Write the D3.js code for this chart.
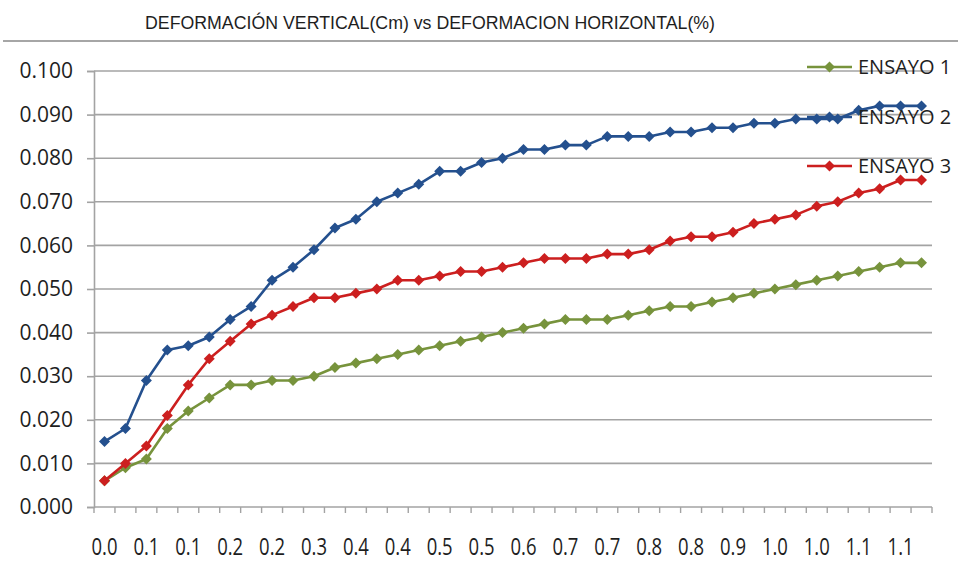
<!DOCTYPE html>
<html>
<head>
<meta charset="utf-8">
<script src="https://cdn.jsdelivr.net/npm/d3@7"></script>
<style>
  html, body { margin: 0; padding: 0; background: #fff; }
  svg { display: block; }
</style>
</head>
<body>
<svg id="chart" width="958" height="569"></svg>
<script>
// Horizontal deformation (%) categories, one per reading
const categories = [
  "0.0","0.0","0.1","0.1","0.1","0.2","0.2","0.2","0.2","0.3",
  "0.3","0.3","0.4","0.4","0.4","0.5","0.5","0.5","0.5","0.6",
  "0.6","0.6","0.7","0.7","0.7","0.8","0.8","0.8","0.8","0.9",
  "0.9","0.9","1.0","1.0","1.0","1.1","1.1","1.1","1.1","1.2"
];

// Vertical deformation (cm) per test
const ensayo1 = [
  0.006,0.009,0.011,0.018,0.022,0.025,0.028,0.028,0.029,0.029,
  0.030,0.032,0.033,0.034,0.035,0.036,0.037,0.038,0.039,0.040,
  0.041,0.042,0.043,0.043,0.043,0.044,0.045,0.046,0.046,0.047,
  0.048,0.049,0.050,0.051,0.052,0.053,0.054,0.055,0.056,0.056
];
const ensayo2 = [
  0.015,0.018,0.029,0.036,0.037,0.039,0.043,0.046,0.052,0.055,
  0.059,0.064,0.066,0.070,0.072,0.074,0.077,0.077,0.079,0.080,
  0.082,0.082,0.083,0.083,0.085,0.085,0.085,0.086,0.086,0.087,
  0.087,0.088,0.088,0.089,0.089,0.089,0.091,0.092,0.092,0.092
];
const ensayo3 = [
  0.006,0.010,0.014,0.021,0.028,0.034,0.038,0.042,0.044,0.046,
  0.048,0.048,0.049,0.050,0.052,0.052,0.053,0.054,0.054,0.055,
  0.056,0.057,0.057,0.057,0.058,0.058,0.059,0.061,0.062,0.062,
  0.063,0.065,0.066,0.067,0.069,0.070,0.072,0.073,0.075,0.075
];

const seriesNames = ["ENSAYO 1", "ENSAYO 2", "ENSAYO 3"];
const yTicks = [0, 0.01, 0.02, 0.03, 0.04, 0.05, 0.06, 0.07, 0.08, 0.09, 0.1];
const titleText = "DEFORMACIÓN VERTICAL(Cm) vs DEFORMACION HORIZONTAL(%)";

const series = [
  { name: seriesNames[0], values: ensayo1, color: "#77933C" },
  { name: seriesNames[1], values: ensayo2, color: "#24508E" },
  { name: seriesNames[2], values: ensayo3, color: "#CC1F1F" }
];

const svg = d3.select("#chart");
const plot = { left: 94, right: 932, top: 71, bottom: 507 };

const x = d3.scaleBand()
  .domain(d3.range(categories.length))
  .range([plot.left, plot.right])
  .padding(0);
const y = d3.scaleLinear().domain([0, 0.1]).range([plot.bottom, plot.top]);

const gridColor = "#A3A3A3";
const textColor = "#1E1E1E";

// Title and separator rule beneath it
svg.append("text")
  .attr("x", 145).attr("y", 29)
  .attr("font-family", "'Liberation Sans Narrow', 'Arial Narrow', 'Liberation Sans', sans-serif")
  .attr("font-size", 18)
  .attr("fill", textColor)
  .attr("textLength", 570)
  .attr("lengthAdjust", "spacingAndGlyphs")
  .text(titleText);

svg.append("line")
  .attr("x1", 3).attr("x2", 958)
  .attr("y1", 41).attr("y2", 41)
  .attr("stroke", "#A6A6A6").attr("stroke-width", 2);

// Horizontal gridlines
svg.append("g")
  .selectAll("line")
  .data(yTicks.slice(1))
  .join("line")
  .attr("x1", plot.left).attr("x2", plot.right)
  .attr("y1", d => y(d)).attr("y2", d => y(d))
  .attr("stroke", gridColor).attr("stroke-width", 1.6);

// Y axis
const yAxis = d3.axisLeft(y)
  .tickValues(yTicks)
  .tickFormat(d3.format(".3f"))
  .tickSize(7)
  .tickPadding(14);
const gy = svg.append("g")
  .attr("transform", `translate(${plot.left},0)`)
  .call(yAxis);
gy.select(".domain").attr("stroke", gridColor).attr("stroke-width", 1.6);
gy.selectAll(".tick line").attr("stroke", gridColor).attr("stroke-width", 1.6);
gy.selectAll(".tick text")
  .attr("font-family", "'Open Sans', sans-serif")
  .attr("font-size", 21)
  .attr("fill", textColor);

// X axis: ticks between categories, labels on every other category
const gx = svg.append("g").attr("transform", `translate(0,${plot.bottom})`);
gx.append("line")
  .attr("x1", plot.left).attr("x2", plot.right)
  .attr("stroke", gridColor).attr("stroke-width", 1.6);
const boundaries = d3.range(categories.length + 1);
gx.selectAll("line.tk")
  .data(boundaries)
  .join("line")
  .attr("class", "tk")
  .attr("x1", i => plot.left + i * x.bandwidth())
  .attr("x2", i => plot.left + i * x.bandwidth())
  .attr("y1", 0).attr("y2", 6)
  .attr("stroke", gridColor).attr("stroke-width", 1.4);
gx.selectAll("text")
  .data(d3.range(0, categories.length, 2))
  .join("text")
  .attr("x", i => x(i) + x.bandwidth() / 2)
  .attr("y", 48)
  .attr("text-anchor", "middle")
  .attr("font-family", "'Open Sans', sans-serif")
  .attr("font-size", 24)
  .attr("fill", textColor)
  .attr("textLength", 26)
  .attr("lengthAdjust", "spacingAndGlyphs")
  .text(i => categories[i]);

// Series lines and diamond markers
const line = d3.line()
  .x((d, i) => x(i) + x.bandwidth() / 2)
  .y(d => y(d));
const diamond = "M0,-5.5L5.5,0L0,5.5L-5.5,0Z";

series.forEach(s => {
  const g = svg.append("g");
  g.append("path")
    .datum(s.values)
    .attr("d", line)
    .attr("fill", "none")
    .attr("stroke", s.color)
    .attr("stroke-width", 2.6)
    .attr("stroke-linejoin", "round");
  g.selectAll("path.mk")
    .data(s.values)
    .join("path")
    .attr("class", "mk")
    .attr("d", diamond)
    .attr("transform", (d, i) => `translate(${x(i) + x.bandwidth() / 2},${y(d)})`)
    .attr("fill", s.color);
});

// Legend
const legendY = [67, 117, 166];
const legend = svg.append("g");
series.forEach((s, k) => {
  const gl = legend.append("g").attr("transform", `translate(0,${legendY[k]})`);
  gl.append("line")
    .attr("x1", 807).attr("x2", 852)
    .attr("stroke", s.color).attr("stroke-width", 2.6);
  gl.append("path")
    .attr("d", diamond)
    .attr("transform", "translate(829.5,0)")
    .attr("fill", s.color);
  gl.append("text")
    .attr("x", 858).attr("y", 7)
    .attr("font-family", "'Open Sans', sans-serif")
    .attr("font-size", 20)
    .attr("fill", textColor)
    .text(s.name);
});
</script>
</body>
</html>
